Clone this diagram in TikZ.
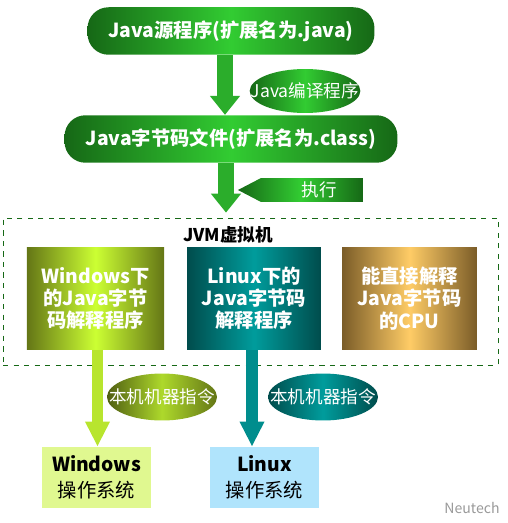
\documentclass[tikz,border=0pt]{standalone}
\usepackage{fontspec}
\setmainfont{Noto Sans CJK SC}
\usetikzlibrary{shapes.geometric,shapes.symbols,arrows.meta}
\definecolor{jgreendark}{RGB}{22,104,22}
\definecolor{jgreen}{RGB}{50,204,50}
\definecolor{olivedark}{RGB}{100,118,22}
\definecolor{olivelight}{RGB}{204,255,51}
\definecolor{tealdark}{RGB}{0,76,76}
\definecolor{teallight}{RGB}{0,156,156}
\definecolor{golddark}{RGB}{122,92,40}
\definecolor{goldlight}{RGB}{255,204,102}
\definecolor{winfill}{RGB}{224,248,144}
\definecolor{linfill}{RGB}{176,228,252}

\begin{document}
\begin{tikzpicture}[
  x=0.02cm, y=-0.02cm,
  font=\fontsize{10}{12}\selectfont,
  pill/.style={rounded corners=0.42cm, minimum height=0.95cm, text=white, font=\fontsize{11}{13}\selectfont\bfseries,
    left color=jgreendark, right color=jgreendark, middle color=jgreen},
  oval/.style={ellipse, minimum width=2.2cm, minimum height=0.88cm, inner xsep=-0.3cm, inner ysep=0pt, text=white},
  interp/.style={minimum width=2.75cm, minimum height=2.06cm, align=center, text=white,
    font=\fontsize{11}{12.6}\selectfont\bfseries},
  osbox/.style={minimum width=2.18cm, minimum height=1.22cm, align=center,
    font=\fontsize{11}{15}\selectfont},
  frame/.style={draw=jgreendark, dashed, thin, minimum width=9.9cm, minimum height=2.94cm},
  bigarr/.style={line width=0.32cm, -{Triangle[width=0.58cm,length=0.38cm]}},
  smallarr/.style={line width=0.23cm, -{Triangle[width=0.46cm,length=0.5cm]}},
]
\useasboundingbox (0,0) rectangle (507,523);

% Nodes top-to-bottom
\node[pill, minimum width=5.74cm] (src) at (231,31) {Java源程序(扩展名为.java)};
\node[oval, left color=jgreendark, right color=jgreendark, middle color=jgreen] (compile) at (305,91) {Java编译程序};
\node[pill, minimum width=6.66cm] (cls) at (231,139) {Java字节码文件(扩展名为.class)};
\node[signal, signal to=west, signal pointer angle=55, minimum width=2.5cm, minimum height=0.48cm, inner sep=0pt,
  text=white, left color=jgreendark, right color=jgreendark, middle color=jgreen] (exec) at (312,190) {\hspace{0.3cm}执行};

% JVM frame
\node[frame] (jvm) at (250.5,291.5) {};
\node[font=\fontsize{10}{12}\selectfont\bfseries] (jvmlabel) at (228,235) {JVM虚拟机};
\node[interp, left color=olivedark, right color=olivedark, middle color=olivelight] (winint) at (95.5,298.5)
  {Windows下\\的Java字节\\码解释程序};
\node[interp, minimum width=2.68cm, left color=tealdark, right color=tealdark, middle color=teallight] (linint) at (254,298.5)
  {Linux下的\\Java字节码\\解释程序};
\node[interp, minimum width=2.7cm, left color=golddark, right color=golddark, middle color=goldlight] (cpu) at (409.5,298.5)
  {能直接解释\\Java字节码\\的CPU};

% Native side
\node[oval, minimum height=0.94cm, left color=olivedark!80!black, right color=olivedark, middle color=olivelight!85!black] (native1) at (162,397) {本机机器指令};
\node[oval, minimum height=0.94cm, left color=tealdark, right color=tealdark, middle color=teallight] (native2) at (323,397) {本机机器指令};
\node[osbox, fill=winfill] (winos) at (96.5,477.5) {\textbf{Windows}\\操作系统};
\node[osbox, fill=linfill] (linos) at (264.5,477.5) {\textbf{Linux}\\操作系统};
\node[text=black!40, font=\fontsize{8}{10}\selectfont] (brand) at (472,508) {Neutech};

% Arrows
\draw[bigarr, jgreen!85!black] ([xshift=-0.12cm]src.south) -- ([xshift=-0.12cm]cls.north);
\draw[bigarr, jgreen!85!black] ([xshift=-0.1cm]cls.south) -- ([xshift=-0.1cm, yshift=0.1cm]cls.south |- jvm.north);
\draw[smallarr, olivelight!90!black] ([xshift=0.04cm]winint.south) -- ([xshift=0.04cm]winint.south |- winos.north);
\draw[smallarr, teallight!90!black] ([xshift=-0.04cm]linint.south) -- ([xshift=-0.04cm]linint.south |- linos.north);

\end{tikzpicture}
\end{document}
